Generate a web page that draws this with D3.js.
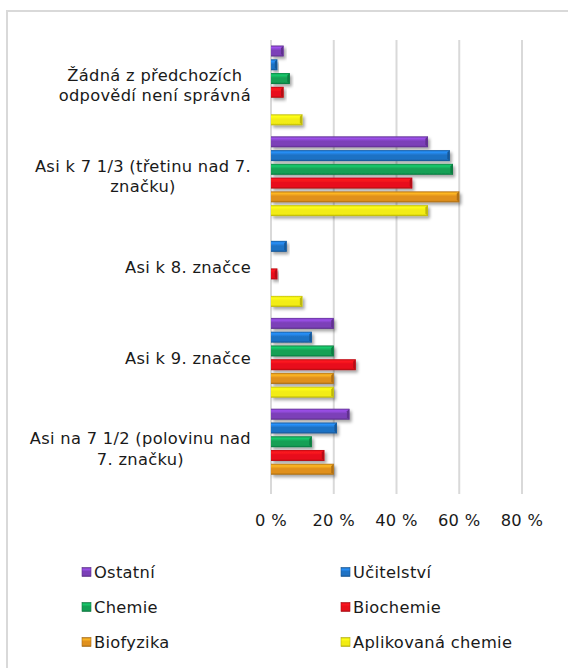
<!DOCTYPE html>
<html>
<head>
<meta charset="utf-8">
<script src="https://cdn.jsdelivr.net/npm/d3@7"></script>
<style>
  body { margin: 0; background: #fff; }
  svg { display: block; }
</style>
</head>
<body>
<svg id="chart" width="568" height="668"></svg>
<script>
// answer categories, top to bottom
const categories = [
    ['Žádná z předchozích', 'odpovědí není správná'],
    ['Asi k 7 1/3 (třetinu nad 7.', 'značku)'],
    ['Asi k 8. značce'],
    ['Asi k 9. značce'],
    ['Asi na 7 1/2 (polovinu nad', '7. značku)']
];
const series = ['Ostatní', 'Učitelství', 'Chemie', 'Biochemie', 'Biofyzika', 'Aplikovaná chemie'];
const colors = ['#7b3fb8', '#1f72c4', '#13a055', '#e8101a', '#e0901c', '#f2ec12'];

// percent values per series, same order as categories
const ostatni = [4, 50, 0, 20, 25];
const ucitelstvi = [2, 57, 5, 13, 21];
const chemie = [6, 58, 0, 20, 13];
const biochemie = [4, 45, 2, 27, 17];
const biofyzika = [0, 60, 0, 20, 20];
const aplikovana = [10, 50, 10, 20, 0];
const values = [ostatni, ucitelstvi, chemie, biochemie, biofyzika, aplikovana];

const ticks = [0, 20, 40, 60, 80];

const FONT = "'DejaVu Sans', sans-serif";
const FONT_SIZE = 16.3;
const SPACING = '0.3px';

const svg = d3.select('#chart');

// outer frame
svg.append('rect')
    .attr('x', 7).attr('y', 11)
    .attr('width', 600).attr('height', 700)
    .attr('fill', '#fff')
    .attr('stroke', '#d9d9d9')
    .attr('stroke-width', 2);

const defs = svg.append('defs');

const shadow = defs.append('filter')
    .attr('id', 'shadow')
    .attr('x', '-10%').attr('y', '-30%')
    .attr('width', '130%').attr('height', '180%');
shadow.append('feDropShadow')
    .attr('dx', 2).attr('dy', 2.5)
    .attr('stdDeviation', 1.4)
    .attr('flood-color', '#000')
    .attr('flood-opacity', 0.35);

colors.forEach((c, i) => {
    let g = defs.append('linearGradient')
        .attr('id', 'grad-' + i)
        .attr('x1', 0).attr('y1', 0).attr('x2', 0).attr('y2', 1);
    let base = d3.color(c);
    g.append('stop').attr('offset', '0%').attr('stop-color', base.darker(0.6));
    g.append('stop').attr('offset', '18%').attr('stop-color', base.brighter(0.7));
    g.append('stop').attr('offset', '45%').attr('stop-color', base);
    g.append('stop').attr('offset', '82%').attr('stop-color', base);
    g.append('stop').attr('offset', '100%').attr('stop-color', base.darker(0.9));
});

const x = d3.scaleLinear().domain([0, 80]).range([271, 522]);
const y = d3.scaleBand().domain(d3.range(categories.length)).range([40, 494]);
const ys = d3.scaleBand().domain(d3.range(series.length))
    .range([0, y.bandwidth()])
    .paddingInner(0.2)
    .paddingOuter(0.4);

// gridlines
svg.append('g')
    .selectAll('line')
    .data(ticks)
    .join('line')
    .attr('x1', d => x(d)).attr('x2', d => x(d))
    .attr('y1', 40).attr('y2', 494)
    .attr('stroke', '#d9d9d9')
    .attr('stroke-width', 2);

// bars
const gBars = svg.append('g');
categories.forEach((cat, ci) => {
    series.forEach((s, si) => {
        let v = values[si][ci];
        if (v <= 0) return;
        let g = gBars.append('g').attr('filter', 'url(#shadow)');
        let bx = x(0), by = y(ci) + ys(si), bw = x(v) - x(0), bh = ys.bandwidth();
        g.append('rect')
            .attr('x', bx).attr('y', by)
            .attr('width', bw).attr('height', bh)
            .attr('fill', 'url(#grad-' + si + ')');
        // bevelled right end
        g.append('path')
            .attr('d', 'M' + (bx + bw - 2.5) + ',' + (by + 2.5) + 'L' + (bx + bw) + ',' + by +
                'L' + (bx + bw) + ',' + (by + bh) + 'L' + (bx + bw - 2.5) + ',' + (by + bh - 2.5) + 'Z')
            .attr('fill', d3.color(colors[si]).darker(0.7));
    });
});

// category labels, right aligned block, lines centred
const labelRight = 251;
categories.forEach((lines, ci) => {
    let g = svg.append('g');
    let cy = y(ci) + y.bandwidth() / 2;
    let lh = 20.5;
    let texts = lines.map((l, li) => g.append('text')
        .attr('y', cy + (li - (lines.length - 1) / 2) * lh)
        .attr('dy', '0.35em')
        .attr('text-anchor', 'middle')
        .attr('font-family', FONT)
        .attr('font-size', FONT_SIZE)
        .attr('letter-spacing', SPACING)
        .attr('fill', '#1a1a1a')
        .text(l));
    let w = d3.max(texts, t => t.node().getComputedTextLength());
    texts.forEach(t => t.attr('x', labelRight - w / 2));
});

// x tick labels
svg.append('g')
    .selectAll('text')
    .data(ticks)
    .join('text')
    .attr('x', d => x(d))
    .attr('y', 520)
    .attr('dy', '0.35em')
    .attr('text-anchor', 'middle')
    .attr('font-family', FONT)
    .attr('font-size', FONT_SIZE)
    .attr('letter-spacing', SPACING)
    .attr('fill', '#1a1a1a')
    .text(d => d + ' %');

// legend: 2 columns x 3 rows
const legend = svg.append('g');
series.forEach((s, i) => {
    let col = i % 2, row = Math.floor(i / 2);
    let lx = col === 0 ? 82 : 341;
    let ly = 572 + row * 35;
    legend.append('rect')
        .attr('x', lx).attr('y', ly - 4.5)
        .attr('width', 9).attr('height', 9)
        .attr('fill', 'url(#grad-' + i + ')')
        .attr('stroke', d3.color(colors[i]).darker(0.8))
        .attr('stroke-width', 0.6);
    legend.append('text')
        .attr('x', lx + 12)
        .attr('y', ly)
        .attr('dy', '0.35em')
        .attr('font-family', FONT)
        .attr('font-size', FONT_SIZE)
        .attr('letter-spacing', SPACING)
        .attr('fill', '#1a1a1a')
        .text(s);
});
</script>
</body>
</html>
